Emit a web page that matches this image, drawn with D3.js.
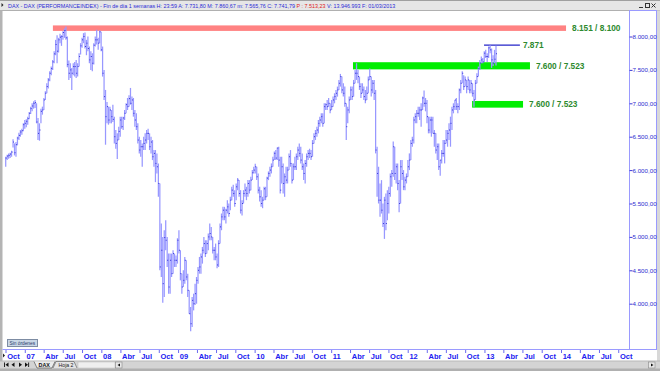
<!DOCTYPE html>
<html><head><meta charset="utf-8">
<script src="https://cdn.jsdelivr.net/npm/d3@7"></script>
<style>
html,body{margin:0;padding:0;background:#fff;overflow:hidden}
svg{display:block}
text{font-family:Arial,"Liberation Sans",sans-serif}
</style>
</head><body>
<svg id="chart" width="660" height="371"></svg>
<script>
// ---------- DATA (weekly bars, DAX performance index) ----------
const firstWeek = "2006-10-02";
const weekHigh = [
6200,6230,6250,6260,6290, 6460,6400,6420,6500,6560, 6600,6620,6700,6750,6760, 6800,6870,6950,7000,7030,
7050,7000,6780,6700,6920, 6950,7080,7180,7300,7380, 7480,7550,7650,7780,7950, 8020,7980,8040,8020,8080,
8120,8151,8000,7640,7600, 7530,7600,7620,7650,7600, 7750,7900,7980,8050,8060, 7950,8000,7850,7780,7750,
7900,8000,8100,7980,8090, 8070,7850,7500,7200,7020, 6950,6950,6900,6980,6800, 6600,6550,6650,6800,6800,
6800,6900,7000,7080,7120, 7230,7100,7080,6900,6850, 6700,6500,6450,6400,6500, 6550,6600,6620,6550,6500,
6450,6300,6300,6250,6100, 5800,5200,5000,5100,5250, 5000,4750,4750,4750,4800, 4750,4720,4980,5100,4800,
4450,4500,4700,4650,4450, 4200,3950,4100,4150,4300, 4400,4550,4700,4750,4850, 5000,4950,4950,5050,5200,
5150,5000,4850,4900,4750, 4950,5200,5350,5450,5450, 5420,5550,5500,5600,5750, 5780,5700,5800,5880,5850,
5700,5550,5700,5800,5750, 5850,5850,5900,6000,6050, 6094,6050,5950,5750,5700, 5600,5750,5750,5900,5980,
6050,6100,6200,6280,6300, 6340,6350,6200,6200,6100, 5950,6050,6050,6250,6300, 6100,6100,6200,6250,6350,
6400,6350,6250,6100,6150, 6250,6300,6320,6300,6450, 6550,6600,6650,6750,6800, 6850,6850,7000,7000,7050,
7080,7000,7050,7100,7150, 7200,7250,7350,7440,7400, 7300,7250,7000,6950,7100, 7250,7250,7350,7500,7600,
7500,7400,7300,7300,7250, 7200,7250,7400,7520,7400, 7350,7350,7200,6350,6050, 5800,5850,5500,5600,5650,
5700,5750,5950,6000,6430, 6350,6100,6100,5850,6150, 6150,6000,5900,5950,6150, 6250,6450,6500,6800,6850,
6900,6950,6950,7000,7100, 7190,7080,7050,6800,6800, 6800,6800,6600,6550,6400, 6400,6150,6300,6450,6450,
6600,6600,6700,6800,6950, 7000,7050,7080,7000,7220, 7350,7480,7420,7400,7350, 7400,7350,7350,7300,7200,
7350,7450,7550,7650,7700, 7680,7780,7800,7750,7850, 7870,7820,7720,7800,7861
];
const weekLow = [
6050,6150,6170,6180,6200, 6340,6220,6200,6370,6450, 6500,6530,6580,6620,6640, 6680,6760,6840,6880,6920,
6930,6700,6450,6440,6700, 6830,6900,7050,7150,7220, 7330,7420,7500,7600,7720, 7600,7760,7900,7860,7950,
7980,7950,7540,7350,7380, 7200,7420,7400,7380,7400, 7550,7730,7830,7900,7820, 7720,7780,7600,7500,7480,
7580,7850,7880,7800,7900, 7780,7400,7050,6380,6700, 6680,6700,6700,6720,6400, 6320,6167,6450,6500,6620,
6600,6750,6850,6900,6950, 6980,6900,6800,6650,6600, 6400,6250,6200,6050,6300, 6300,6400,6450,6300,6250,
6150,6050,5820,5950,5600, 4500,4400,4014,4100,4800, 4550,4150,4150,4400,4450, 4550,4550,4600,4750,4350,
4150,4250,4300,4350,4100, 3850,3588,3650,3900,3980, 4000,4300,4450,4450,4600, 4750,4700,4750,4800,4950,
4950,4750,4650,4650,4530, 4550,4900,5100,5250,5250, 5200,5350,5300,5400,5550, 5600,5450,5550,5700,5600,
5350,5320,5500,5600,5550, 5600,5650,5700,5850,5950, 5950,5850,5650,5530,5450, 5430,5550,5550,5600,5850,
5900,5950,6050,6150,6150, 6150,6050,5650,5800,5650, 5600,5800,5800,6000,6050, 5800,5850,6000,6000,6150,
6200,6100,6000,5850,5800, 6050,6150,6180,6150,6200, 6400,6450,6500,6550,6650, 6700,6650,6700,6900,6900,
6950,6850,6900,6950,7000, 7050,7100,7200,7250,7150, 7100,6950,6450,6700,6850, 7050,7050,7100,7300,7350,
7300,7200,7080,7150,7050, 7000,7050,7150,7350,7100, 7150,7050,6250,5600,5500, 5300,5350,5150,4970,5100,
5250,5350,5600,5750,5900, 5850,5800,5700,5370,5500, 5850,5700,5700,5800,5900, 6000,6150,6350,6400,6700,
6700,6800,6750,6650,6900, 6950,6880,6700,6550,6550, 6500,6550,6350,6250,6150, 6000,5914,6100,6200,6100,
6400,6350,6450,6350,6600, 6850,6900,6900,6850,6900, 7150,7300,7200,7250,7150, 7200,7150,7150,7100,6950,
7050,7300,7400,7500,7600, 7600,7620,7680,7620,7680, 7750,7530,7560,7600,7566
];
const weekClose = [
6180,6210,6220,6240,6270, 6420,6260,6380,6480,6520, 6570,6590,6680,6700,6730, 6770,6850,6920,6960,7000,
7010,6720,6550,6600,6880, 6900,7050,7150,7250,7350, 7450,7520,7620,7740,7880, 7780,7950,7990,8000,8060,
8090,7980,7580,7450,7500, 7450,7550,7550,7450,7550, 7700,7860,7950,8000,7850, 7900,7820,7650,7700,7600,
7870,7950,7950,7900,8070, 7800,7450,7100,6800,6950, 6750,6900,6800,6760,6500, 6400,6450,6580,6750,6650,
6780,6850,6980,6950,7070, 7000,7050,6850,6750,6650, 6450,6300,6350,6350,6400, 6450,6550,6550,6350,6420,
6200,6250,6100,6050,5800, 4550,4800,4300,4990,4950, 4650,4250,4650,4450,4750, 4650,4650,4950,4800,4450,
4250,4350,4650,4400,4200, 3850,3700,4050,4000,4150, 4350,4500,4550,4700,4800, 4900,4750,4900,5000,5050,
5000,4800,4800,4700,4580, 4900,5150,5300,5400,5300, 5400,5450,5350,5550,5700, 5650,5500,5750,5850,5650,
5400,5500,5650,5700,5650, 5800,5700,5850,5960,6000, 6050,5900,5700,5600,5500, 5550,5720,5600,5880,5950,
6000,6050,6150,6250,6180, 6330,6150,5700,6050,5800, 5900,5850,6000,6200,6100, 5850,6050,6050,6200,6300,
6250,6150,6050,5950,6100, 6200,6250,6250,6200,6400, 6500,6550,6600,6700,6750, 6800,6700,6950,6980,6950,
7000,6900,6950,7050,7100, 7150,7200,7300,7400,7200, 7150,7000,6650,6900,7050, 7200,7100,7300,7450,7450,
7400,7250,7150,7200,7100, 7050,7150,7350,7400,7200, 7300,7150,6300,5950,5550, 5550,5400,5200,5550,5200,
5500,5650,5900,5950,6350, 5950,6050,5800,5500,6050, 5950,5750,5850,5900,6050, 6150,6400,6450,6750,6800,
6850,6850,6900,6900,7080, 7000,7000,6800,6600,6750, 6750,6550,6550,6300,6350, 6050,6150,6250,6250,6400,
6450,6550,6600,6700,6900, 6950,7050,6950,6950,7200, 7300,7450,7250,7350,7250, 7350,7200,7300,7150,7050,
7300,7400,7520,7600,7650, 7620,7750,7700,7700,7830, 7800,7650,7600,7660,7742
];
const yTickValues = [4000,4500,5000,5500,6000,6500,7000,7500,8000];
const quarterNames = ["", "Abr", "Jul", "Oct"];   // January shows the year
const levelNames  = ["8.151 / 8.100", "7.600 / 7.523", "7.871", "7.600 / 7.523"];
const levelTop    = [8151, 7600, 7871, 7020];
const levelBottom = [8100, 7523, 7871, 6950];
const levelStart  = ["2007-05-15", "2011-04-15", "2012-12-30", "2012-11-03"];
const levelEnd    = ["2014-01-25", "2013-08-06", "2013-06-19", "2013-07-04"];
const levelKind   = ["band", "band", "line", "band"];
const levelColor  = ["#ff8282", "#00ee00", "#2525c8", "#00ee00"];
const titleParts = [
  {t: "DAX - DAX (PERFORMANCEINDEX) - Fin de día 1 semanas H: 23:59 A: 7.731,80 M: 7.860,67 m: 7.565,76 C: 7.741,79 ", c: "#2b2bd6"},
  {t: "P : 7.513,23", c: "#e02020"},
  {t: " V: 13.946.993 F: 01/03/2013", c: "#2b2bd6"}
];

// ---------- RENDER ----------
const svg = d3.select("#chart");
const parse = d3.timeParse("%Y-%m-%d");
const start = parse(firstWeek);
const dates = weekHigh.map((_, i) => d3.timeDay.offset(start, 7 * i));

const x = d3.scaleTime().domain([new Date(2006, 9, 1), new Date(2014, 0, 1)]).range([5.5, 561]);
const y = d3.scaleLinear().domain([4000, 8000]).range([303.7, 36.5]);

const es = d3.formatLocale({decimal: ",", thousands: ".", grouping: [3], currency: ["", "€"]});
const fmt = es.format(",.2f");

// window background
svg.append("rect").attr("width", 660).attr("height", 371).attr("fill", "#ffffff");
// title bar
svg.append("rect").attr("x", 0).attr("y", 0).attr("width", 660).attr("height", 10.5).attr("fill", "#e6e6e6");
svg.append("line").attr("x1", 0).attr("x2", 660).attr("y1", 0.5).attr("y2", 0.5).attr("stroke", "#a0a0a0");
svg.append("line").attr("x1", 0).attr("x2", 660).attr("y1", 10.5).attr("y2", 10.5).attr("stroke", "#b0b0b0");
svg.append("path").attr("d", "M1.5,3 L3.5,5 L1.5,7 Z").attr("fill", "#222");
const tt = svg.append("text").attr("x", 8).attr("y", 7.6).attr("font-size", 5.4);
titleParts.forEach(p => tt.append("tspan").attr("fill", p.c).text(p.t));
// window buttons
svg.append("line").attr("x1", 639).attr("x2", 643).attr("y1", 7.5).attr("y2", 7.5).attr("stroke", "#333").attr("stroke-width", 1);
svg.append("rect").attr("x", 645.5).attr("y", 3.5).attr("width", 4).attr("height", 4).attr("fill", "none").attr("stroke", "#333").attr("stroke-width", 1);
svg.append("path").attr("d", "M651.5,3.5 L655.5,7.5 M655.5,3.5 L651.5,7.5").attr("stroke", "#333").attr("stroke-width", 1);

// left / right window edges
svg.append("rect").attr("x", 0).attr("y", 10.5).attr("width", 2.5).attr("height", 351).attr("fill", "#b4b4b4");
svg.append("rect").attr("x", 657).attr("y", 10.5).attr("width", 3).attr("height", 351).attr("fill", "#d8d8d8");

// right price panel frame
svg.append("rect").attr("x", 629.5).attr("y", 10.5).attr("width", 27).attr("height", 339)
  .attr("fill", "none").attr("stroke", "#9a9aff");

// levels (bands and line)
levelNames.forEach((name, k) => {
  const x0 = x(parse(levelStart[k])), x1 = x(parse(levelEnd[k]));
  if (levelKind[k] === "band") {
    const yt = y(levelTop[k]) - 1, yb = y(levelBottom[k]) + 1;
    svg.append("rect").attr("x", x0).attr("y", yt).attr("width", x1 - x0).attr("height", Math.max(5.5, yb - yt))
      .attr("fill", levelColor[k]);
  } else {
    svg.append("line").attr("x1", x0).attr("x2", x1).attr("y1", y(levelTop[k])).attr("y2", y(levelTop[k]))
      .attr("stroke", levelColor[k]).attr("stroke-width", 1.3);
  }
  const ym = (y(levelTop[k]) + y(levelBottom[k])) / 2;
  svg.append("text").attr("x", x1 + (levelKind[k] === "band" ? 6 : 3)).attr("y", ym + 3)
    .attr("font-size", 8.3).attr("font-weight", "bold").attr("fill", "#2e8a2e").text(name);
});

// weekly bars
const bars = svg.append("g");
bars.selectAll("line.hl").data(dates).join("line").attr("class", "hl")
  .attr("x1", d => x(d)).attr("x2", d => x(d))
  .attr("y1", (d, i) => y(weekHigh[i])).attr("y2", (d, i) => y(weekLow[i]))
  .attr("stroke", "#9898ff").attr("stroke-width", 1.25);
bars.selectAll("line.cl").data(dates).join("line").attr("class", "cl")
  .attr("x1", d => x(d)).attr("x2", d => x(d) + 1)
  .attr("y1", (d, i) => y(weekClose[i])).attr("y2", (d, i) => y(weekClose[i]))
  .attr("stroke", "#3434d8").attr("stroke-width", 1);

// y axis on the right
const yAxis = svg.append("g").attr("transform", "translate(629.5,0)")
  .call(d3.axisRight(y).tickValues(yTickValues).tickFormat(fmt).tickSize(3).tickPadding(0));
yAxis.select(".domain").remove();
yAxis.selectAll(".tick line").attr("stroke", "#3a3ad8");
yAxis.selectAll(".tick text").attr("font-size", 6.2).attr("fill", "#2d2dd0").attr("font-family", "Arial, 'Liberation Sans', sans-serif");

// x axis
const qDates = d3.timeMonth.every(3).range(new Date(2006, 9, 1), new Date(2014, 10, 2));
const xAxis = svg.append("g").attr("transform", "translate(0,349.5)")
  .call(d3.axisBottom(x).tickValues(qDates).tickSize(3.5)
    .tickFormat(d => d.getMonth() === 0 ? d3.timeFormat("%y")(d) : quarterNames[d.getMonth() / 3]));
xAxis.select(".domain").remove();
svg.append("line").attr("x1", 2.5).attr("x2", 629.5).attr("y1", 349.5).attr("y2", 349.5).attr("stroke", "#9a9aff");
xAxis.selectAll(".tick line").attr("stroke", "#6a6af0");
xAxis.selectAll(".tick text").attr("text-anchor", "start").attr("x", 1.2).attr("y", 9.6).attr("dy", 0)
  .attr("font-size", 7.5).attr("font-weight", "bold").attr("fill", "#2020f0")
  .attr("font-family", "Arial, 'Liberation Sans', sans-serif");
svg.append("path").attr("d", "M3,353.5 L5,355.5 L3,357.5 Z").attr("fill", "#222");

// "Sin órdenes" button
svg.append("rect").attr("x", 7.5).attr("y", 339.5).attr("width", 30).attr("height", 7).attr("fill", "#c9d7e6").attr("stroke", "#7d8ca3");
svg.append("text").attr("x", 9.5).attr("y", 345).attr("font-size", 4.8).attr("fill", "#2a3a6a").text("Sin órdenes");

// bottom sheet-tab bar
svg.append("rect").attr("x", 0).attr("y", 361).attr("width", 660).attr("height", 10).attr("fill", "#d4d4d4");
svg.append("line").attr("x1", 0).attr("x2", 660).attr("y1", 361).attr("y2", 361).attr("stroke", "#b8b8b8");
svg.append("rect").attr("x", 0).attr("y", 368.5).attr("width", 660).attr("height", 2.5).attr("fill", "#b0b0b0");
const nav = svg.append("g").attr("fill", "#111");
nav.append("rect").attr("x", 4).attr("y", 362.5).attr("width", 0.9).attr("height", 4.5);
nav.append("path").attr("d", "M8.5,362.5 L5.5,364.75 L8.5,367 Z");
nav.append("path").attr("d", "M14.5,362.5 L11.5,364.75 L14.5,367 Z");
nav.append("path").attr("d", "M19,362.5 L22,364.75 L19,367 Z");
nav.append("path").attr("d", "M25,362.5 L28,364.75 L25,367 Z");
nav.append("rect").attr("x", 28.2).attr("y", 362.5).attr("width", 0.9).attr("height", 4.5);
svg.append("path").attr("d", "M34,361.5 L37,368 L52,368 L55,361.5").attr("fill", "#ececec").attr("stroke", "#555").attr("stroke-width", 0.7);
svg.append("text").attr("x", 38.5).attr("y", 366.8).attr("font-size", 5.4).attr("font-weight", "bold").attr("fill", "#111").text("DAX");
svg.append("path").attr("d", "M53,368 L56,361.5 L74,361.5 L77,368").attr("fill", "#e4e4e4").attr("stroke", "#666").attr("stroke-width", 0.7);
svg.append("text").attr("x", 58.5).attr("y", 366.8).attr("font-size", 5.2).attr("fill", "#222").text("Hoja 2");
svg.append("rect").attr("x", 78).attr("y", 362).attr("width", 37).attr("height", 6).attr("fill", "#efefef").attr("stroke", "#bbb").attr("stroke-width", 0.5);
svg.append("rect").attr("x", 115.5).attr("y", 362).attr("width", 6.5).attr("height", 6).attr("fill", "#e8e8e8").attr("stroke", "#888").attr("stroke-width", 0.6);
svg.append("path").attr("d", "M120,363.5 L117.5,365 L120,366.5 Z").attr("fill", "#111");
svg.append("rect").attr("x", 648.5).attr("y", 362).attr("width", 6.5).attr("height", 6).attr("fill", "#e8e8e8").attr("stroke", "#888").attr("stroke-width", 0.6);
svg.append("path").attr("d", "M651,363.5 L653.5,365 L651,366.5 Z").attr("fill", "#111");
</script>
</body></html>
